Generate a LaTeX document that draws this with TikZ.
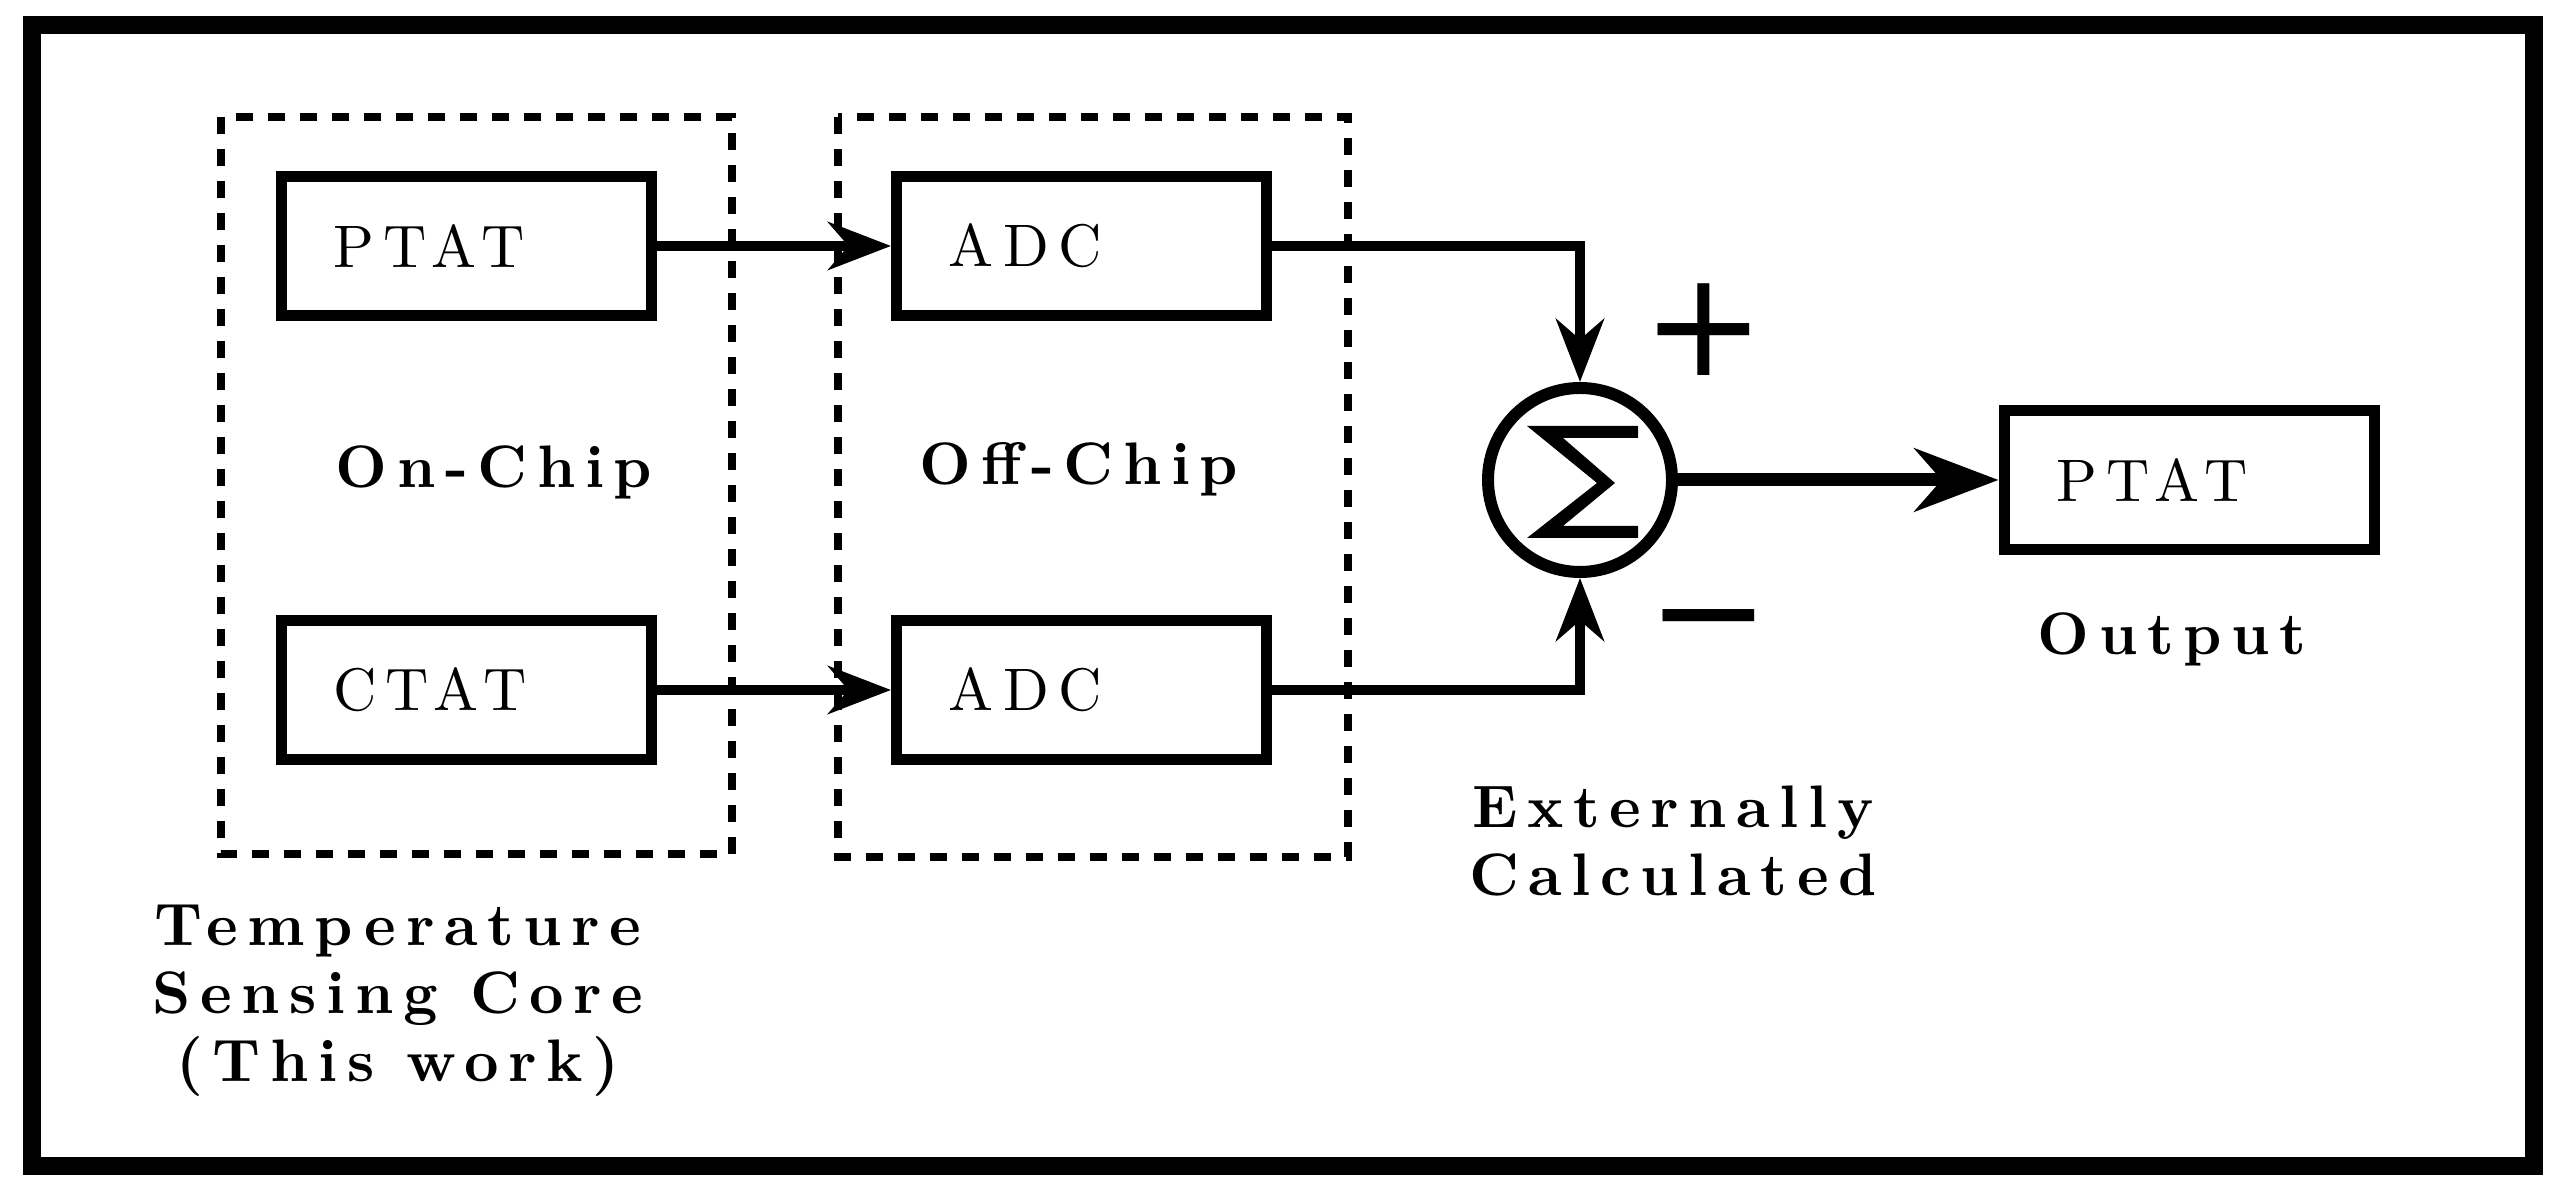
\documentclass[tikz,border=0pt]{standalone}
\usepackage{fontspec}
\setmainfont{lmroman10-regular.otf}[BoldFont=lmroman10-bold.otf, LetterSpace=16]
\newfontfamily\signfont{DejaVu Sans}
\usetikzlibrary{arrows.meta}

\newcommand{\diagfont}{\fontsize{15}{17}\selectfont}

\tikzset{every picture/.style={line width=2.5pt}}
\tikzset{
  blockbox/.style={draw, line width=2.75pt, minimum width=92.5pt, minimum height=34.75pt,
    text width=66.5pt, inner xsep=13pt, inner ysep=0pt, align=left, font=\diagfont},
  groupbox/.style={line width=2pt, dash pattern={on 4.25pt off 3.75pt}},
  sumnode/.style={draw, circle, line width=3pt, minimum size=46pt, inner sep=0pt},
  link/.style={line width=2.5pt, -{Stealth[length=15.75pt, width=12pt]}},
  outlink/.style={line width=3.25pt, -{Stealth[length=21pt, width=15.75pt]}},
  caption/.style={font=\diagfont\bfseries, inner sep=0pt, align=center},
  sign/.style={font=\signfont\fontsize{36.6}{40}\selectfont, inner sep=0pt}
}

\begin{document}
\begin{tikzpicture}[x=0.25pt,y=0.25pt,yscale=-1,xscale=1]
    \useasboundingbox (0,0) rectangle (2561,1194);

    %Shape: Outer frame
    \draw [line width=4.5pt] (32,25) rectangle (2534,1166);
    %Shape: Dashed group, on-chip
    \draw [groupbox] (221,117) rectangle (732,854);
    %Shape: Dashed group, off-chip
    \draw [groupbox] (838,117) rectangle (1348,857);

    %Blocks
    \node [blockbox] (ptat) at (466,246) {PTAT};
    \node [blockbox] (ctat) at (466,690) {CTAT};
    \node [blockbox] (adcA) at (1081.5,246) {ADC};
    \node [blockbox] (adcB) at (1081.5,690) {ADC};
    \node [blockbox] (out) at (2189,480) {PTAT};

    %Summing junction
    \node [sumnode] (sum) at (1580,480) {};
    \fill [shift={(sum.center)}] (-53,-54) -- (58,-54) -- (58,-42) -- (-17,-42) -- (35,3) -- (-17,46) -- (58,46) -- (58,58) -- (-53,58) -- (17,3) -- cycle;

    %Connectors
    \draw [link] (ptat.east) -- (adcA.west);
    \draw [link] (ctat.east) -- (adcB.west);
    \draw [link] (adcA.east) -| (sum.north);
    \draw [link] (adcB.east) -| (sum.south);
    \draw [outlink] (sum.east) -- (out.west);

    % Text Node
    \node [sign] (plus) at (1704,330) {+};
    % Text Node
    \node [sign] (minus) at (1709,636) {−};
    % Text Node
    \node [caption, anchor=base] (onchip) at (494,488) {On-Chip};
    % Text Node
    \node [caption, anchor=base] (offchip) at (1079,485) {Off-Chip};
    % Text Node
    \node [caption, anchor=base] (outlabel) at (2172,655) {Output};
    % Text Node
    \node [caption, anchor=north] (extcalc) at (1673,781) {Externally\\Calculated};
    % Text Node
    \node [caption, anchor=north] (core) at (398,900) {Temperature\\Sensing Core\\(This work)};

\end{tikzpicture}
\end{document}
